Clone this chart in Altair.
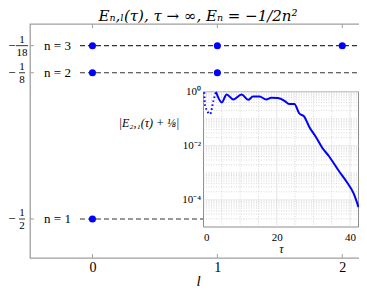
import altair as alt
import pandas as pd

SERIF = "Liberation Serif"

# ---------------- main panel values ----------------
levels_E = [-1 / 2, -1 / 8, -1 / 18]
levels_label = ["n = 1", "n = 2", "n = 3"]
frac_num = ["1", "1", "1"]
frac_den = ["2", "8", "18"]
pts_l = [0, 0, 1, 0, 1, 2]
pts_E = [-1 / 2, -1 / 8, -1 / 8, -1 / 18, -1 / 18, -1 / 18]
x_ticks = [0, 1, 2]
X_DOMAIN = [-0.5, 2.19]
Y_DOMAIN = [-0.6, 0.0]
DASH_START = -0.1
LABEL_L = -0.28

# ---------------- inset values ----------------
tau_dotted = [0.2, 0.46, 1.8, 2.7, 3.4]
err_dotted = [0.95, 0.30, 0.15, 0.46, 0.98]
tau_solid = [3.4, 5.0, 6.3, 8.1, 10.4, 12.2, 13.5, 15.3, 17.1, 18.5, 20.3, 22.1,
             23.4, 24.8, 26.1, 27.5, 28.8, 30.6, 32.4, 34.2, 36.9, 39.2, 41.0, 42.3]
err_solid = [0.98, 0.40, 0.79, 0.52, 0.79, 0.50, 0.66, 0.66, 0.52, 0.60, 0.58, 0.46,
             0.35, 0.35, 0.16, 0.12, 0.052, 0.022, 0.0085, 0.0042, 0.0012, 0.00044,
             0.00017, 0.000054]
inset_x_ticks = [0, 20, 40]
inset_x_minor = [5, 10, 15, 25, 30, 35]
inset_y_ticks = [1e-4, 1e-2, 1.0]
inset_y_minor = [k * 10.0 ** e for e in range(-5, 0) for k in range(2, 10)] + [1e-3, 1e-1]
INSET_X_DOMAIN = [0, 42.3]
INSET_Y_DOMAIN = [1e-5, 1.0]

W, H = 336, 234

xs = alt.Scale(domain=X_DOMAIN, nice=False, zero=False)
ys = alt.Scale(domain=Y_DOMAIN, nice=False, zero=False)
ixs = alt.Scale(domain=INSET_X_DOMAIN, range=[173.5, 328.5], nice=False, zero=False)
iys = alt.Scale(type="log", domain=INSET_Y_DOMAIN, range=[203, 67.7], nice=False)

lev = pd.DataFrame({"E": levels_E, "label": levels_label, "num": frac_num, "den": frac_den,
                    "x0": DASH_START, "x1": X_DOMAIN[1], "lx": LABEL_L})
pts = pd.DataFrame({"l": pts_l, "E": pts_E})
xt = pd.DataFrame({"t": x_ticks})
one = pd.DataFrame({"a": [0]})

MX = alt.Axis(values=x_ticks, title="l", tickSize=0, domain=False, grid=False,
              labelFont=SERIF, labelFontSize=14, labelPadding=2, labelColor="black",
              titleFont=SERIF, titleFontSize=15, titleFontStyle="italic",
              titleFontWeight="normal", titlePadding=-1, titleColor="black")

dashes = alt.Chart(lev).mark_rule(color="#333333", strokeDash=[5, 3], strokeWidth=1.1).encode(
    x=alt.X("x0:Q", scale=xs, axis=MX), x2="x1:Q",
    y=alt.Y("E:Q", scale=ys, axis=None))

nlab = alt.Chart(lev).mark_text(font=SERIF, fontSize=13, color="black").encode(
    x=alt.X("lx:Q", scale=xs, axis=MX), y=alt.Y("E:Q", scale=ys, axis=None), text="label:N")

points = alt.Chart(pts).mark_circle(size=50, color="#0000ff", opacity=1).encode(
    x=alt.X("l:Q", scale=xs, axis=MX), y=alt.Y("E:Q", scale=ys, axis=None))

xtick_b = alt.Chart(xt).mark_rule(color="#a0a0a0", strokeWidth=1).encode(
    x=alt.X("t:Q", scale=xs, axis=MX), y=alt.value(H), y2=alt.value(H - 4))
xtick_t = alt.Chart(xt).mark_rule(color="#a0a0a0", strokeWidth=1).encode(
    x=alt.X("t:Q", scale=xs, axis=MX), y=alt.value(0), y2=alt.value(4))

ytick = alt.Chart(lev).mark_rule(color="#a0a0a0", strokeWidth=1).encode(
    y=alt.Y("E:Q", scale=ys, axis=None), x=alt.value(0), x2=alt.value(4))

minus = alt.Chart(lev).mark_text(font=SERIF, fontSize=13, color="black").encode(
    y=alt.Y("E:Q", scale=ys, axis=None), x=alt.value(-18), text=alt.value("\u2212"))
numer = alt.Chart(lev).mark_text(font=SERIF, fontSize=11, color="black", dy=-6).encode(
    y=alt.Y("E:Q", scale=ys, axis=None), x=alt.value(-8), text="num:N")
denom = alt.Chart(lev).mark_text(font=SERIF, fontSize=11, color="black", dy=7).encode(
    y=alt.Y("E:Q", scale=ys, axis=None), x=alt.value(-8), text="den:N")
bar_wide = alt.Chart(lev).transform_filter("length(datum.den) > 1").mark_rule(
    color="black", strokeWidth=0.8).encode(
    y=alt.Y("E:Q", scale=ys, axis=None), x=alt.value(-14), x2=alt.value(-2))
bar_narrow = alt.Chart(lev).transform_filter("length(datum.den) == 1").mark_rule(
    color="black", strokeWidth=0.8).encode(
    y=alt.Y("E:Q", scale=ys, axis=None), x=alt.value(-11), x2=alt.value(-5))

inset_ylab = alt.Chart(one).mark_text(font=SERIF, fontSize=12, fontStyle="italic",
                                      color="black").encode(
    x=alt.value(119), y=alt.value(99), text=alt.value("|E\u2082,\u2081(\u03c4) + \u215b|"))

main = alt.layer(dashes, nlab, points, xtick_b, xtick_t, ytick, minus, numer, denom,
                 bar_wide, bar_narrow, inset_ylab)

# ---------------- inset ----------------
IX = alt.Axis(orient="bottom", offset=-31, values=inset_x_ticks, tickSize=0,
              domain=False, grid=False, labelFont=SERIF, labelFontSize=11,
              labelPadding=4, labelColor="black", title="\u03c4", titleFont=SERIF,
              titleFontSize=12, titleFontStyle="italic", titleFontWeight="normal",
              titlePadding=1, titleColor="black")
IY = alt.Axis(orient="left", offset=-173.5, values=inset_y_ticks, tickSize=0,
              domain=False, grid=False, labelFont=SERIF, labelFontSize=11,
              labelPadding=3, labelColor="black", title=None,
              labelExpr="datum.value >= 0.5 ? '10\u2070' : (datum.value >= 0.005 ? '10\u207b\u00b2' : '10\u207b\u2074')")

box = pd.DataFrame({"x0": [INSET_X_DOMAIN[0]], "x1": [INSET_X_DOMAIN[1]],
                    "y0": [INSET_Y_DOMAIN[0]], "y1": [INSET_Y_DOMAIN[1]]})
bg = alt.Chart(box).mark_rect(fill="white", stroke="#8c8c8c", strokeWidth=1).encode(
    x=alt.X("x0:Q", scale=ixs, axis=IX), x2="x1:Q",
    y=alt.Y("y0:Q", scale=iys, axis=IY), y2="y1:Q")

hmin = pd.DataFrame({"v": inset_y_minor, "x0": INSET_X_DOMAIN[0], "x1": INSET_X_DOMAIN[1]})
hmaj = pd.DataFrame({"v": inset_y_ticks, "x0": INSET_X_DOMAIN[0], "x1": INSET_X_DOMAIN[1]})
vmin = pd.DataFrame({"v": inset_x_minor, "y0": INSET_Y_DOMAIN[0], "y1": INSET_Y_DOMAIN[1]})
vmaj = pd.DataFrame({"v": inset_x_ticks[1:], "y0": INSET_Y_DOMAIN[0], "y1": INSET_Y_DOMAIN[1]})

g_hmin = alt.Chart(hmin).mark_rule(color="#c8c8c8", strokeWidth=0.7, strokeDash=[1, 1.5]).encode(
    y=alt.Y("v:Q", scale=iys, axis=IY), x=alt.X("x0:Q", scale=ixs, axis=IX), x2="x1:Q")
g_hmaj = alt.Chart(hmaj).mark_rule(color="#dedede", strokeWidth=0.8).encode(
    y=alt.Y("v:Q", scale=iys, axis=IY), x=alt.X("x0:Q", scale=ixs, axis=IX), x2="x1:Q")
g_vmin = alt.Chart(vmin).mark_rule(color="#c8c8c8", strokeWidth=0.7, strokeDash=[1, 1.5]).encode(
    x=alt.X("v:Q", scale=ixs, axis=IX), y=alt.Y("y0:Q", scale=iys, axis=IY), y2="y1:Q")
g_vmaj = alt.Chart(vmaj).mark_rule(color="#dedede", strokeWidth=0.8).encode(
    x=alt.X("v:Q", scale=ixs, axis=IX), y=alt.Y("y0:Q", scale=iys, axis=IY), y2="y1:Q")

dot_df = pd.DataFrame({"tau": tau_dotted, "err": err_dotted})
sol_df = pd.DataFrame({"tau": tau_solid, "err": err_solid})

dotted = alt.Chart(dot_df).mark_line(color="#0000ff", strokeWidth=2, strokeDash=[1.5, 2.5],
                                      interpolate="monotone").encode(
    x=alt.X("tau:Q", scale=ixs, axis=IX), y=alt.Y("err:Q", scale=iys, axis=IY))
solid = alt.Chart(sol_df).mark_line(color="#0000ff", strokeWidth=2,
                                     interpolate="monotone").encode(
    x=alt.X("tau:Q", scale=ixs, axis=IX), y=alt.Y("err:Q", scale=iys, axis=IY))

inset = alt.layer(bg, g_hmin, g_vmin, g_hmaj, g_vmaj, dotted, solid)

chart = alt.layer(main, inset).resolve_scale(x="independent", y="independent").properties(
    width=W, height=H,
    title=alt.TitleParams("E\u2099,\u2097(\u03c4), \u03c4 \u2192 \u221e,  E\u2099 = \u22121/2n\u00b2",
                          font="DejaVu Serif", fontSize=15, fontWeight="normal", fontStyle="italic",
                          anchor="middle", color="black", offset=0),
    autosize=alt.AutoSizeParams(type="none"),
    padding={"left": 22, "top": 16, "right": -7, "bottom": 30},
).configure_view(stroke="#a0a0a0", strokeWidth=1.3)

chart.save("out.html", embed_options={"renderer": "svg", "actions": False})
